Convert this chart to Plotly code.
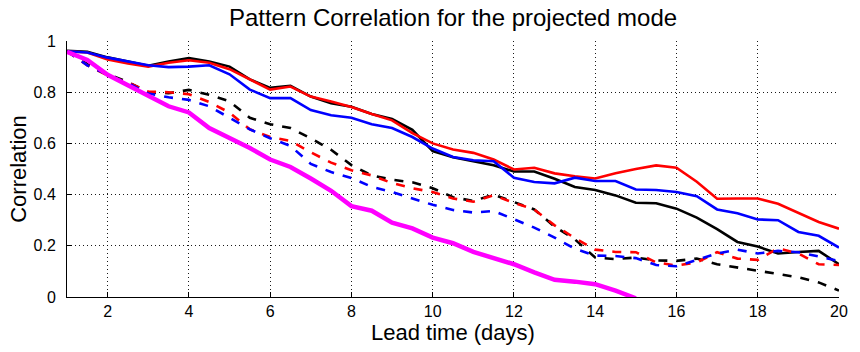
import plotly.graph_objects as go

# Lead time (days), sampled every half day
lead_days = [1 + 0.5 * i for i in range(39)]

solid_black = [0.962, 0.958, 0.936, 0.920, 0.903, 0.920, 0.933, 0.920, 0.900, 0.850,
               0.817, 0.825, 0.783, 0.757, 0.743, 0.715, 0.695, 0.653, 0.570, 0.546,
               0.530, 0.515, 0.490, 0.490, 0.462, 0.430, 0.418, 0.397, 0.368, 0.366,
               0.345, 0.310, 0.265, 0.215, 0.197, 0.170, 0.176, 0.180, 0.128]

solid_red = [0.960, 0.955, 0.928, 0.912, 0.900, 0.915, 0.925, 0.915, 0.890, 0.850,
             0.810, 0.822, 0.783, 0.764, 0.742, 0.715, 0.690, 0.640, 0.600, 0.576,
             0.563, 0.537, 0.498, 0.505, 0.483, 0.472, 0.463, 0.483, 0.500, 0.514,
             0.505, 0.450, 0.384, 0.385, 0.385, 0.364, 0.330, 0.293, 0.267]

solid_blue = [0.960, 0.955, 0.935, 0.920, 0.905, 0.898, 0.900, 0.905, 0.870, 0.810,
              0.777, 0.777, 0.730, 0.710, 0.700, 0.675, 0.660, 0.625, 0.580, 0.547,
              0.534, 0.530, 0.466, 0.449, 0.444, 0.466, 0.453, 0.453, 0.420, 0.418,
              0.410, 0.394, 0.342, 0.327, 0.303, 0.300, 0.254, 0.239, 0.193]

dashed_black = [0.960, 0.910, 0.870, 0.840, 0.800, 0.796, 0.809, 0.790, 0.764, 0.700,
                0.675, 0.660, 0.620, 0.575, 0.515, 0.475, 0.458, 0.448, 0.425, 0.390,
                0.375, 0.400, 0.371, 0.342, 0.275, 0.225, 0.154, 0.148, 0.154, 0.143,
                0.141, 0.150, 0.128, 0.115, 0.102, 0.090, 0.077, 0.057, 0.025]

dashed_red = [0.960, 0.905, 0.865, 0.838, 0.802, 0.800, 0.792, 0.762, 0.720, 0.655,
              0.625, 0.610, 0.565, 0.525, 0.495, 0.475, 0.445, 0.425, 0.410, 0.385,
              0.372, 0.397, 0.368, 0.342, 0.280, 0.230, 0.185, 0.176, 0.175, 0.135,
              0.123, 0.135, 0.175, 0.150, 0.145, 0.190, 0.170, 0.128, 0.125]

dashed_blue = [0.960, 0.905, 0.868, 0.835, 0.795, 0.780, 0.770, 0.745, 0.700, 0.655,
               0.620, 0.590, 0.520, 0.488, 0.465, 0.430, 0.410, 0.385, 0.360, 0.340,
               0.330, 0.336, 0.303, 0.271, 0.232, 0.188, 0.162, 0.160, 0.152, 0.125,
               0.120, 0.145, 0.170, 0.185, 0.170, 0.180, 0.175, 0.158, 0.140]

magenta = [0.958, 0.926, 0.868, 0.829, 0.786, 0.745, 0.721, 0.660, 0.621, 0.582,
           0.537, 0.508, 0.463, 0.415, 0.355, 0.337, 0.290, 0.268, 0.232, 0.210,
           0.176, 0.154, 0.128, 0.096, 0.067, 0.060, 0.050, 0.025, -0.005]

x_ticks = [2, 4, 6, 8, 10, 12, 14, 16, 18, 20]
x_tick_labels = ["2", "4", "6", "8", "10", "12", "14", "16", "18", "20"]
y_ticks = [0, 0.2, 0.4, 0.6, 0.8, 1]
y_tick_labels = ["0", "0.2", "0.4", "0.6", "0.8", "1"]

FONT = "Liberation Sans, Arial, Helvetica, sans-serif"
DASH = "9px,9px"

series = [
    (solid_black, "#000000", "solid", 2.6),
    (solid_red, "#ff0000", "solid", 2.6),
    (solid_blue, "#0000ff", "solid", 2.6),
    (dashed_black, "#000000", DASH, 2.6),
    (dashed_red, "#ff0000", DASH, 2.6),
    (dashed_blue, "#0000ff", DASH, 2.6),
    (magenta, "#ff00ff", "solid", 4.5),
]

fig = go.Figure()
for vals, color, dash, width in series:
    fig.add_trace(go.Scatter(
        x=lead_days[:len(vals)], y=vals, mode="lines",
        line=dict(color=color, width=width, dash=dash),
        showlegend=False, hoverinfo="skip",
    ))

axis_common = dict(
    showline=True, linecolor="black", linewidth=1,
    ticks="inside", ticklen=5, tickcolor="black", tickwidth=1,
    showgrid=True, gridcolor="rgba(0,0,0,0.9)", gridwidth=1, griddash="1px,3px",
    zeroline=False, mirror=False,
    tickfont=dict(family=FONT, size=16, color="black"),
)

fig.update_layout(
    width=860, height=352,
    margin=dict(l=67, r=14, t=41, b=54),
    paper_bgcolor="white", plot_bgcolor="white",
    hovermode=False,
    title=dict(text="Pattern Correlation for the projected mode",
               x=0.5, xref="paper", xanchor="center",
               y=1 - 18 / 352, yanchor="middle", yref="container",
               font=dict(family=FONT, size=24, color="black")),
    xaxis=dict(range=[1, 20], tickvals=x_ticks, ticktext=x_tick_labels,
               title=dict(text="Lead time (days)", standoff=4,
                          font=dict(family=FONT, size=22, color="black")),
               **axis_common),
    yaxis=dict(range=[0, 1], tickvals=y_ticks, ticktext=y_tick_labels,
               ticklabelstandoff=7,
               title=dict(text="Correlation", standoff=0,
                          font=dict(family=FONT, size=22, color="black")),
               **axis_common),
)

# Remove the browser's default page margin so the 860x352 figure fills the window exactly.
fig.write_html("out.html",
               config={"displayModeBar": False, "staticPlot": True},
               post_script="document.body.style.margin='0';document.body.style.overflow='hidden';")
